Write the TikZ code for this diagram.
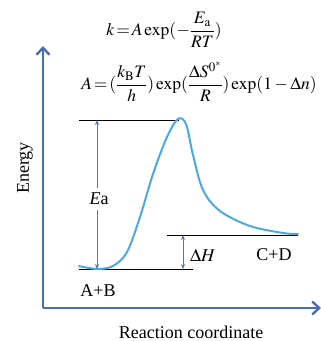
\documentclass[tikz,border=0pt]{standalone}
\usepackage{mathptmx}
\usepackage{amsmath}
\usepackage{fontspec}
\setmainfont{Liberation Serif}
\usetikzlibrary{arrows.meta}
\definecolor{axisblue}{HTML}{4A6DB3}
\definecolor{curveblue}{HTML}{4AA8E2}
\definecolor{arrblue}{HTML}{5577B5}
\tikzset{
  axis/.style={axisblue, line width=2.4pt, -{Straight Barb[length=7pt,width=13pt,line width=2.4pt]}},
  level/.style={black, line width=1pt},
  dim/.style={arrblue, line width=0.7pt, {Stealth[length=5pt,width=4pt]}-{Stealth[length=5pt,width=4pt]}},
  lbl/.style={font=\fontsize{18}{20}\selectfont, inner sep=0pt},
  fml/.style={font=\fontsize{17.5}{20}\selectfont, inner sep=0pt},
}
\begin{document}
\begin{tikzpicture}[x=1pt,y=-1pt]
\useasboundingbox (0,0) rectangle (321,341);
% axes
\coordinate (O) at (43,308);
\coordinate (ytip) at (43,46);
\coordinate (xtip) at (321,308);
\draw[axis] (O) -- (ytip);
\draw[axis] (O) -- (xtip);
% levels
\coordinate (t1) at (79,120); \coordinate (t2) at (179,120);
\coordinate (b1) at (79,269); \coordinate (b2) at (193,269);
\coordinate (c1) at (167,235); \coordinate (c2) at (298,235);
\draw[level] (t1) -- (t2);
\draw[level] (b1) -- (b2);
\draw[level] (c1) -- (c2);
% curve
\draw[curveblue, line width=2pt, line cap=round]
  plot[smooth, tension=0.55] coordinates {
  (79,266) (97,269) (113,266) (127,252) (140,217) (153,174) (167,137)
  (178,119) (186,124) (193,155) (203,190) (220,211) (250,226) (283,233) (298,234)};
% Ea arrow
\coordinate (ea1) at (97,120); \coordinate (ea2) at (97,269);
\draw[dim] (ea1) -- (ea2);
\fill[white] (85,188) rectangle (114,210);
\node[lbl] (Ea) at (99,199) {\textit{E}a};
% dH arrow
\coordinate (h1) at (183,235); \coordinate (h2) at (183,269);
\draw[dim] (h1) -- (h2);
\node[lbl, anchor=west] (dH) at (190,255) {$\Delta H$};
\node[lbl] (CD) at (274,255) {C+D};
\node[lbl] (AB) at (98,291) {A+B};
% axis labels
\node[lbl, rotate=90] (en) at (25,168) {Energy};
\node[lbl] (rc) at (191,332) {Reaction coordinate};
% formulas
\node[fml] (f1) at (164,30)
  {$k\!=\!A\exp(-\dfrac{E_{\mathrm{a}}}{RT})$};
\node[fml] (f2) at (199,82)
  {$A\!=\!(\dfrac{k_{\mathrm{B}}T}{h})\exp(\dfrac{\Delta S^{0^{*}}}{R})\exp(1-\Delta n)$};
\end{tikzpicture}
\end{document}
